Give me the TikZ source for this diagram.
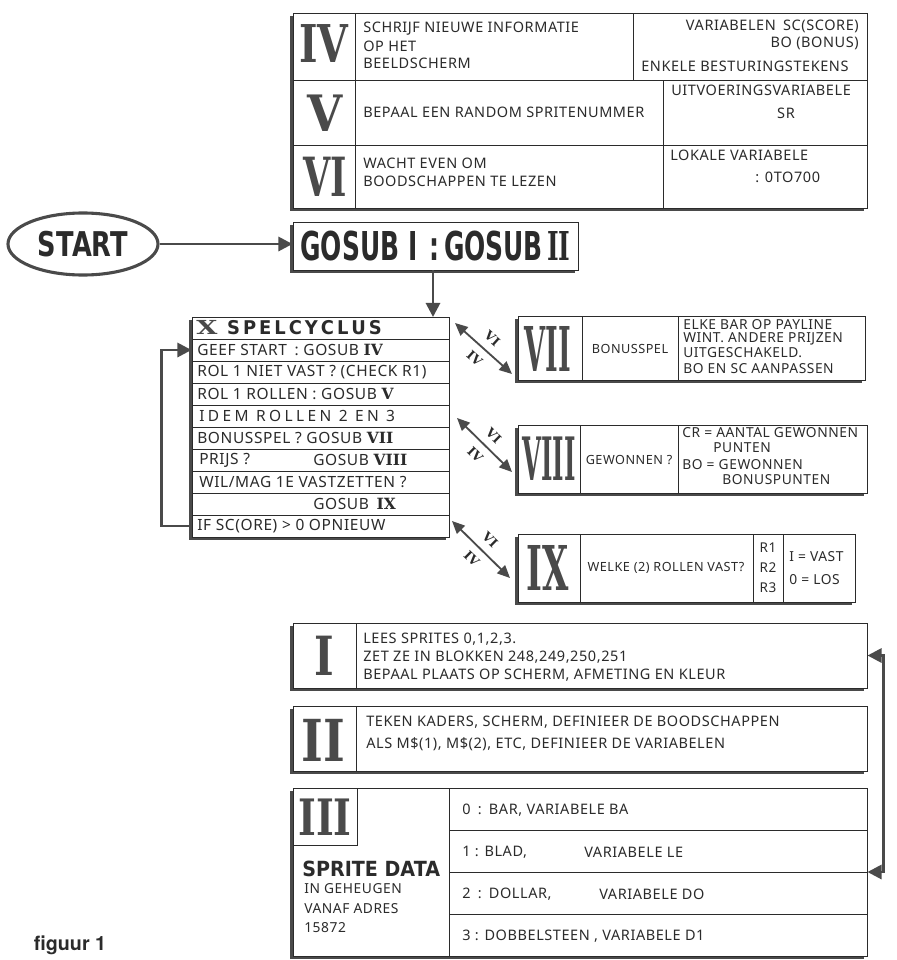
\documentclass[tikz,border=0pt]{standalone}
\usepackage{fontspec}
\setmainfont{Noto Sans}[LetterSpace=4]
\newfontfamily\romfont{DejaVu Serif}
\newfontfamily\heavyfont{DejaVu Sans}
\newfontfamily\figfont{TeX Gyre Heros}
\usetikzlibrary{arrows.meta,fit,shadows,shapes.geometric}
\definecolor{ink}{HTML}{2B2B2B}
\definecolor{heavy}{HTML}{4A4A4A}
% roman numeral squeezed into a w x h box (pt)
\newcommand\rnum[3]{\resizebox{#1pt}{#2pt}{\romfont\bfseries #3}}
\newcommand\srom[1]{{\romfont\bfseries #1}}
\newcommand\bigword[3]{\resizebox{#1pt}{#2pt}{\heavyfont\bfseries #3}}
\tikzset{
  box/.style={draw=ink,line width=0.7pt,fill=white,inner sep=0pt,
    drop shadow={shadow xshift=-2.4pt,shadow yshift=-2.4pt,fill=heavy,opacity=1}},
  cell/.style={draw=ink,line width=0.6pt},
  txt/.style={anchor=west,inner sep=0pt,text=ink,font=\fontsize{10.3}{11}\selectfont},
  stxt/.style={txt,font=\fontsize{9.8}{10}\selectfont},
  rowtxt/.style={txt,font=\fontsize{11}{12}\selectfont},
  rtxt/.style={txt,anchor=east},
  ctxt/.style={txt,anchor=center,font=\fontsize{9}{10}\selectfont},
  roman/.style={inner sep=0pt,text=heavy},
  startnode/.style={ellipse,draw=heavy,line width=2.2pt,minimum width=3.75cm,minimum height=1.55cm,inner sep=0pt,text=ink},
  flow/.style={draw=heavy,line width=2pt,>={Triangle[length=10pt,width=10pt]},->},
  twoway/.style={draw=heavy,line width=1.3pt,>={Triangle[length=9pt,width=8pt]},<->},
  call/.style={inner sep=0.5pt,text=ink,font=\romfont\bfseries\fontsize{9}{9}\selectfont},
}

\begin{document}
\begin{tikzpicture}[x=0.025cm,y=-0.025cm]
  \useasboundingbox (0,0) rectangle (896,960);

  % subroutines IV, V, VI (top block)
  \node[box,fit={(293,13)(867,208)}] (infobox) {};
  \draw[cell] (293,80) -- (867,80) (293,145) -- (867,145) (355,13) -- (355,208)
    (633,13) -- (633,80) (663,80) -- (663,208);
  \node[roman] (romIV) at (324,44) {\rnum{35}{27}{IV}};
  \node[roman] (romV) at (325,113) {\rnum{25}{26}{V}};
  \node[roman] (romVI) at (325,177) {\rnum{31}{28}{VI}};
  \node[txt] (iv1) at (363,29) {SCHRIJF NIEUWE INFORMATIE};
  \node[txt] (iv2) at (363,46) {OP HET};
  \node[txt] (iv3) at (363,63) {BEELDSCHERM};
  \node[rtxt] (iv4) at (859,26) {VARIABELEN\enspace SC(SCORE)};
  \node[rtxt] (iv5) at (859,43) {BO (BONUS)};
  \node[txt] (iv6) at (641,66) {ENKELE BESTURINGSTEKENS};
  \node[txt] (v1) at (363,112) {BEPAAL EEN RANDOM SPRITENUMMER};
  \node[txt] (v2) at (671,90) {UITVOERINGSVARIABELE};
  \node[ctxt,font=\fontsize{10.3}{11}\selectfont] (v3) at (786,113) {SR};
  \node[txt] (vi1) at (363,163) {WACHT EVEN OM};
  \node[txt] (vi2) at (363,181) {BOODSCHAPPEN TE LEZEN};
  \node[txt] (vi3) at (670,155) {LOKALE VARIABELE};
  \node[txt] (vi4) at (755,177) {: 0TO700};

  % start and init
  \node[startnode] (start) at (83,244) {\bigword{64}{18}{START}};
  \node[box,fit={(293,222)(578,270)}] (gosub) {};
  \node[roman,text=ink] (gosubtxt) at (gosub) {\resizebox{192pt}{21pt}{\heavyfont\bfseries GOSUB I\enspace:\,GOSUB\,{\romfont II}}};
  \draw[flow] (start.east) -- (gosub.west |- start.east);
  \draw[flow] (433,0 |- gosub.south) -- (433,0 |- 0,317);

  % X spelcyclus
  \node[box,fit={(192,317)(449,537)}] (cycle) {};
  \foreach \y in {339,361,...,515} \draw[cell] (192,\y) -- (449,\y);
  \node[txt] (cyctitle) at (196,328) {{\color{heavy}\rnum{15}{10}{X}}\hspace{7pt}\bigword{110}{10}{S\,P\,E\,L\,C\,Y\,C\,L\,U\,S}};
  \node[rowtxt] (row1) at (197,350) {GEEF START\enspace: GOSUB \srom{IV}};
  \node[rowtxt] (row2) at (197,372) {ROL 1 NIET VAST ? (CHECK R1)};
  \node[rowtxt] (row3) at (197,394) {ROL 1 ROLLEN : GOSUB \srom{V}};
  \node[rowtxt] (row4) at (199,416) {\addfontfeature{LetterSpace=22}IDEM ROLLEN 2 EN 3};
  \node[rowtxt] (row5) at (197,438) {BONUSSPEL ? GOSUB \srom{VII}};
  \node[rowtxt] (row6) at (199,460) {PRIJS ?};
  \node[rowtxt] (row6b) at (313,460) {GOSUB \srom{VIII}};
  \node[rowtxt] (row7) at (199,482) {WIL/MAG 1E VASTZETTEN ?};
  \node[rowtxt] (row8) at (313,504) {GOSUB\enspace\srom{IX}};
  \node[rowtxt] (row9) at (197,526) {IF SC(ORE) > 0 OPNIEUW};
  \draw[flow] (cycle.west |- row9) -- ++(-30,0) |- (cycle.west |- row1);

  % VII bonusspel
  \node[box,fit={(518,316)(865,380)}] (bonus) {};
  \draw[cell] (582,316) -- (582,380) (678,316) -- (678,380);
  \node[roman] (romVII) at (548,349) {\rnum{33}{32}{VII}};
  \node[ctxt] (b1) at (630,349) {BONUSSPEL};
  \node[stxt] (b2) at (683,325) {ELKE BAR OP PAYLINE};
  \node[stxt] (b3) at (683,339) {WINT. ANDERE PRIJZEN};
  \node[stxt] (b4) at (683,353) {UITGESCHAKELD.};
  \node[stxt] (b5) at (683,369) {BO EN SC AANPASSEN};

  % VIII gewonnen
  \node[box,fit={(518,425)(867,493)}] (won) {};
  \draw[cell] (580,425) -- (580,493) (678,425) -- (678,493);
  \node[roman] (romVIII) at (549,459) {\rnum{38}{31}{VIII}};
  \node[ctxt] (w1) at (629,460) {GEWONNEN ?};
  \node[stxt] (w2) at (682,433) {CR = AANTAL GEWONNEN};
  \node[stxt] (w3) at (713,448) {PUNTEN};
  \node[stxt] (w4) at (682,465) {BO = GEWONNEN};
  \node[stxt] (w5) at (722,480) {BONUSPUNTEN};

  % IX rollen vast
  \node[box,fit={(518,534)(855,602)}] (hold) {};
  \draw[cell] (580,534) -- (580,602) (753,534) -- (753,602) (783,534) -- (783,602);
  \node[roman] (romIX) at (548,568) {\rnum{30}{32}{IX}};
  \node[ctxt] (h1) at (666,568) {WELKE (2) ROLLEN VAST?};
  \node[ctxt,font=\fontsize{9.6}{10}\selectfont] (h2) at (768,548) {R1};
  \node[ctxt,font=\fontsize{9.6}{10}\selectfont] (h3) at (768,568) {R2};
  \node[ctxt,font=\fontsize{9.6}{10}\selectfont] (h4) at (768,588) {R3};
  \node[stxt] (h5) at (789,557) {I = VAST};
  \node[stxt] (h6) at (789,580) {0 = LOS};

  % calls from VII, VIII, IX to IV and VI
  \coordinate (c7a) at (455,323); \coordinate (c7b) at (512,374);
  \coordinate (c8a) at (457,418); \coordinate (c8b) at (512,472);
  \coordinate (c9a) at (452,521); \coordinate (c9b) at (510,578);
  \foreach \a/\b in {c7a/c7b,c8a/c8b,c9a/c9b}{
    \draw[twoway] (\a) -- (\b) node[call,midway,sloped,above=5pt]{VI} node[call,midway,sloped,below=5pt]{IV};
  }

  % I sprites
  \node[box,fit={(293,623)(867,688)}] (sprites) {};
  \draw[cell] (356,623) -- (356,688);
  \node[roman] (romI) at (324,656) {\rnum{14}{28}{I}};
  \node[txt] (s1) at (363,639) {LEES SPRITES 0,1,2,3.};
  \node[txt] (s2) at (363,657) {ZET ZE IN BLOKKEN 248,249,250,251};
  \node[txt] (s3) at (363,675) {BEPAAL PLAATS OP SCHERM, AFMETING EN KLEUR};

  % II frame
  \node[box,fit={(293,706)(867,771)}] (frame) {};
  \draw[cell] (356,706) -- (356,771);
  \node[roman] (romII) at (323,740) {\rnum{31}{30}{II}};
  \node[txt] (f1) at (366,722) {TEKEN KADERS, SCHERM, DEFINIEER DE BOODSCHAPPEN};
  \node[txt] (f2) at (366,744) {ALS M\$(1), M\$(2), ETC, DEFINIEER DE VARIABELEN};

  % III sprite data
  \node[box,fit={(293,788)(867,956)}] (data) {};
  \draw[cell] (357,788) -- (357,845) -- (293,845) (449,788) -- (449,956);
  \foreach \y in {830,872,914} \draw[cell] (449,\y) -- (867,\y);
  \node[roman] (romIII) at (325,817) {\rnum{38}{26}{III}};
  \node[txt] (d0) at (302,869) {\bigword{98}{11}{SPRITE DATA}};
  \node[stxt] (d1) at (304,889) {IN GEHEUGEN};
  \node[stxt] (d2) at (304,909) {VANAF ADRES};
  \node[stxt] (d3) at (304,928) {15872};
  \node[txt] (r0) at (462,810) {0\enspace:\enspace BAR, VARIABELE BA};
  \node[txt] (r1) at (462,852) {1 : BLAD,};
  \node[txt] (r1b) at (584,852) {VARIABELE LE};
  \node[txt] (r2) at (462,894) {2\enspace:\enspace DOLLAR,};
  \node[txt] (r2b) at (599,894) {VARIABELE DO};
  \node[txt] (r3) at (462,936) {3 : DOBBELSTEEN , VARIABELE D1};
  \draw[flow,<->] (sprites.east) -- ++(16,0) |- (data.east);

  \node[font=\figfont\bfseries\fontsize{14}{14}\selectfont,text=ink,inner sep=0pt] (caption) at (70,945) {figuur 1};
\end{tikzpicture}
\end{document}
